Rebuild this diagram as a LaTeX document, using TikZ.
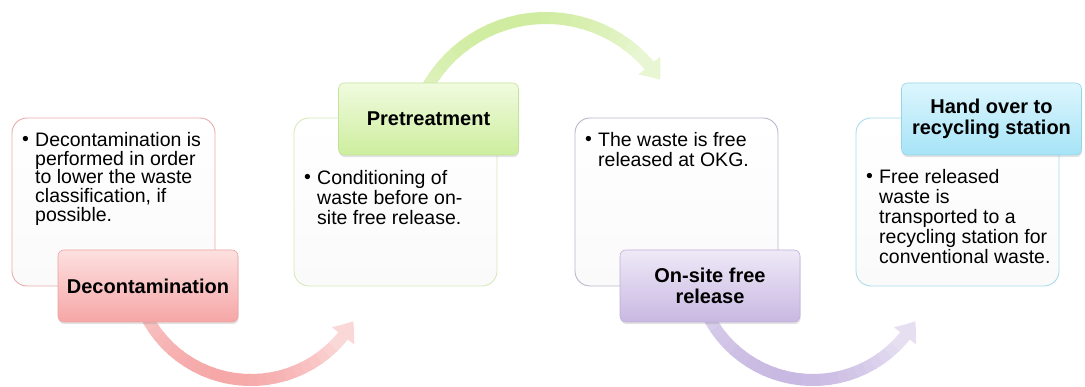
\documentclass[tikz,border=0pt]{standalone}
\usepackage{fontspec}
\setmainfont{Liberation Sans}
\usetikzlibrary{arrows.meta,bending,shadows,calc}

% step colours: frame of the text panel, label gradient (top/bottom), label rim, arc
\definecolor{redpanel}{HTML}{E9ACAC}
\definecolor{redtop}{HTML}{FDE0E0}
\definecolor{redbot}{HTML}{F6A6A6}
\definecolor{redrim}{HTML}{EDA2A2}
\definecolor{redarc}{HTML}{F6A8A8}
\definecolor{greenpanel}{HTML}{D6E9B8}
\definecolor{greentop}{HTML}{F1FBDF}
\definecolor{greenbot}{HTML}{CDEE9E}
\definecolor{greenrim}{HTML}{C3E39A}
\definecolor{greenarc}{HTML}{CFEC9F}
\definecolor{violetpanel}{HTML}{BCB4CC}
\definecolor{violettop}{HTML}{EFE9F7}
\definecolor{violetbot}{HTML}{C8B8E2}
\definecolor{violetrim}{HTML}{BFB0D8}
\definecolor{violetarc}{HTML}{C8B9E2}
\definecolor{bluepanel}{HTML}{A8DCEA}
\definecolor{bluetop}{HTML}{DDF6FD}
\definecolor{bluebot}{HTML}{A6E4F7}
\definecolor{bluerim}{HTML}{98D4E8}

% curved arrow made of short arcs so that its colour can fade along the way
% #1 centre, #2 radius, #3 start angle, #4 tip angle, #5 colour
\newcommand{\flowarc}[5]{%
  \pgfmathsetmacro{\fasign}{ifthenelse(#4>#3,1,-1)}%
  \pgfmathsetmacro{\fabody}{#4-16*\fasign}%
  \foreach \k in {0,...,23}{%
    \pgfmathsetmacro{\faa}{#3+(\fabody-#3)*\k/24}%
    \pgfmathsetmacro{\fab}{#3+(\fabody-#3)*(\k+1)/24+0.8*\fasign}%
    \pgfmathsetmacro{\fat}{(\k+0.5)/24}%
    \pgfmathsetmacro{\fap}{100-140*(\fat-0.5)^2-30*max(\fat-0.5,0)}%
    \draw[flowband, draw=#5!\fap!white] ($(#1)+(\faa:#2)$) arc[start angle=\faa, end angle=\fab, radius=#2];
  }%
  \draw[flowband, draw=#5!45!white, fill=#5!45!white,
        -{Triangle[width=27pt,length=18pt,bend]}]
    ($(#1)+(\fabody:#2)$) arc[start angle=\fabody, end angle=#4, radius=#2];
}

\begin{document}
\begin{tikzpicture}[x=1pt,y=-1pt,
  flowband/.style={line width=12pt},
  panel/.style={draw=#1, line width=0.9pt, rounded corners=15pt,
    top color=white, bottom color=black!2,
    minimum width=203pt, minimum height=168pt, inner sep=0pt},
  steplabel/.style={draw=#1rim, line width=0.6pt, rounded corners=6pt,
    top color=#1top, bottom color=#1bot,
    minimum width=180pt, minimum height=72pt, inner sep=0pt,
    align=center, font=\bfseries\fontsize{20}{21}\selectfont,
    drop shadow={shadow xshift=0.6pt, shadow yshift=-2.2pt, opacity=0.22}},
  bodytext/.style={anchor=north west, inner sep=0pt, align=left,
    font=\fontsize{19.5}{#1}\selectfont},
  dot/.style={anchor=base west, inner sep=0pt, font=\fontsize{19.5}{20}\selectfont}
]
\useasboundingbox (0,0) rectangle (1085,387);

% arc centres
\coordinate (c1) at (251,262);
\coordinate (c2) at (546,154);
\coordinate (c3) at (813,262);

% connecting arcs (behind everything else)
\flowarc{c1}{118}{155}{30}{redarc}
\flowarc{c2}{136}{206}{327}{greenarc}
\flowarc{c3}{118}{155}{30}{violetarc}

% text panels
\node[panel=redpanel]    (p1) at (113.5,202) {};
\node[panel=greenpanel]  (p2) at (395.5,202) {};
\node[panel=violetpanel] (p3) at (676.5,202) {};
\node[panel=bluepanel]   (p4) at (957.5,202) {};

% panel texts
\node[bodytext=18.8] (t1) at (35,132)
  {Decontamination is\\performed in order\\to lower the waste\\classification, if\\possible.};
\node[bodytext=20] (t2) at (317,170)
  {Conditioning of\\waste before on-\\site free release.};
\node[bodytext=20] (t3) at (598,132)
  {The waste is free\\released at OKG.};
\node[bodytext=20] (t4) at (879,169)
  {Free released\\waste is\\transported to a\\recycling station for\\conventional waste.};

\node[dot] (d1) at ($(t1.north west)+(-13,14)$) {•};
\node[dot] (d2) at ($(t2.north west)+(-13,14)$) {•};
\node[dot] (d3) at ($(t3.north west)+(-13,14)$) {•};
\node[dot] (d4) at ($(t4.north west)+(-13,14)$) {•};

% step labels
\node[steplabel=red]    (l1) at (148,286)   {Decontamination};
\node[steplabel=green]  (l2) at (428.5,119) {Pretreatment};
\node[steplabel=violet] (l3) at (710,286)   {On-site free\\release};
\node[steplabel=blue]   (l4) at (991.5,119) {Hand over to\\recycling station};
\end{tikzpicture}
\end{document}
